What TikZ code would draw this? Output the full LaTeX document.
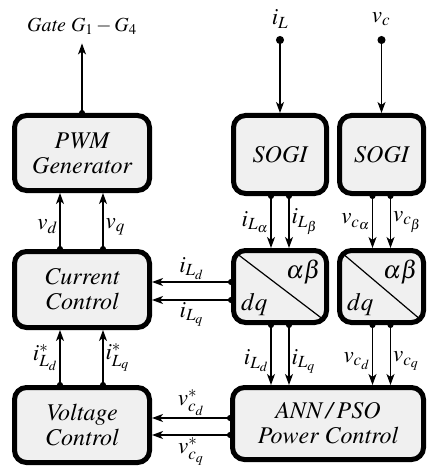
\documentclass[tikz,border=0pt]{standalone}
\usepackage{mathptmx}
\usepackage[no-math]{fontspec}
\setmainfont{Liberation Serif}
\newcommand{\timesit}{\usefont{OT1}{ptm}{m}{it}}
\usetikzlibrary{arrows.meta}
\definecolor{blockfill}{RGB}{240,240,240}

\begin{document}
\begin{tikzpicture}[x=1pt, y=-1pt,
  block/.style={draw, line width=5pt, rounded corners=12pt, fill=blockfill,
                align=center, inner sep=0pt,
                font=\fontsize{24}{25}\selectfont\timesit},
  arr/.style={{Circle[length=6pt]}-{Stealth[length=11pt, width=8pt, inset=3pt]},
              line width=1.2pt, shorten <=-3pt},
  lbl/.style={font=\fontsize{23}{26}\selectfont, inner sep=2pt},
  corner/.style={font=\fontsize{25}{28}\selectfont, inner sep=0pt}
]
  \useasboundingbox (0,0) rectangle (427,470);

  % left column
  \node[block, minimum width=135pt, minimum height=75pt] (pwm) at (82,153) {PWM\\Generator};
  \node[block, minimum width=135pt, minimum height=76pt] (cur) at (82,289.5) {Current\\Control};
  \node[block, minimum width=135pt, minimum height=75pt] (vol) at (82,425) {Voltage\\Control};

  % right side
  \node[block, minimum width=93pt, minimum height=78pt] (sogi1) at (280,154.5) {SOGI};
  \node[block, minimum width=84pt, minimum height=78pt] (sogi2) at (381.5,154.5) {SOGI};
  \node[block, minimum width=93pt, minimum height=72pt] (ab1) at (280,286.5) {};
  \node[block, minimum width=84pt, minimum height=72pt] (ab2) at (381.5,286.5) {};
  \node[block, minimum width=191pt, minimum height=72pt] (ann) at (328,423.5) {ANN\,/\,PSO\\Power Control};

  % alpha-beta / dq transforms
  \foreach \n in {ab1, ab2} {
    \draw[line width=1.2pt] ([shift={(5,5)}]\n.north west) -- ([shift={(-5,-5)}]\n.south east);
    \node[corner, anchor=north east] at ([shift={(-8,12)}]\n.north east) {$\alpha\beta$};
    \node[corner, anchor=south west] at ([shift={(10,-9)}]\n.south west) {$dq$};
  }

  % inputs and output
  \node[font=\fontsize{20}{22}\selectfont\timesit, inner ysep=9pt] (gate) at (82,26) {Gate $G_1-G_4$};
  \node[lbl] (iL) at (280,19) {$i_L$};
  \node[lbl] (vc) at (381,19) {$v_c$};
  \coordinate (iLin) at (280,40);
  \coordinate (vcin) at (381.5,40);

  \draw[arr] (pwm.north) -- (gate.south);
  \draw[arr, {Circle[length=8pt]}-{Stealth[length=11pt, width=8pt, inset=3pt]}, shorten <=-4pt] (iLin) -- (sogi1.north);
  \draw[arr, {Circle[length=8pt]}-{Stealth[length=11pt, width=8pt, inset=3pt]}, shorten <=-4pt] (vcin) -- (sogi2.north);

  % SOGI to transforms
  \draw[arr] ([xshift=-9]sogi1.south) -- node[lbl, left] {$i_{L_\alpha}$} ([xshift=-9]ab1.north);
  \draw[arr] ([xshift=9]sogi1.south) -- node[lbl, right] {$i_{L_\beta}$} ([xshift=9]ab1.north);
  \draw[arr] ([xshift=-9]sogi2.south) -- node[lbl, left] {$v_{c_\alpha}$} ([xshift=-9]ab2.north);
  \draw[arr] ([xshift=9]sogi2.south) -- node[lbl, right] {$v_{c_\beta}$} ([xshift=9]ab2.north);

  % transforms to power control
  \draw[arr] ([xshift=-9]ab1.south) -- node[lbl, left, pos=0.6] {$i_{L_d}$} ([xshift=-9]ab1.south |- ann.north);
  \draw[arr] ([xshift=9]ab1.south) -- node[lbl, right, pos=0.6] {$i_{L_q}$} ([xshift=9]ab1.south |- ann.north);
  \draw[arr] ([xshift=-9]ab2.south) -- node[lbl, left, pos=0.6] {$v_{c_d}$} ([xshift=-9]ab2.south |- ann.north);
  \draw[arr] ([xshift=9]ab2.south) -- node[lbl, right, pos=0.6] {$v_{c_q}$} ([xshift=9]ab2.south |- ann.north);

  % feedback into the left column
  \draw[arr] (ab1.west |- 0,282) -- node[lbl, above] {$i_{L_d}$} (cur.east |- 0,282);
  \draw[arr] (ab1.west |- 0,300) -- node[lbl, below] {$i_{L_q}$} (cur.east |- 0,300);
  \draw[arr] (ann.west |- 0,418) -- node[lbl, above] {$v^*_{c_d}$} (vol.east |- 0,418);
  \draw[arr] (ann.west |- 0,435) -- node[lbl, below] {$v^*_{c_q}$} (vol.east |- 0,435);

  \draw[arr] ([xshift=-22]cur.north) -- node[lbl, left, pos=0.4] {$v_d$} ([xshift=-22]pwm.south);
  \draw[arr] ([xshift=21]cur.north) -- node[lbl, right, pos=0.4] {$v_q$} ([xshift=21]pwm.south);
  \draw[arr] ([xshift=-22]vol.north) -- node[lbl, left] {$i^*_{L_d}$} ([xshift=-22]cur.south);
  \draw[arr] ([xshift=21]vol.north) -- node[lbl, right] {$i^*_{L_q}$} ([xshift=21]cur.south);
\end{tikzpicture}
\end{document}
